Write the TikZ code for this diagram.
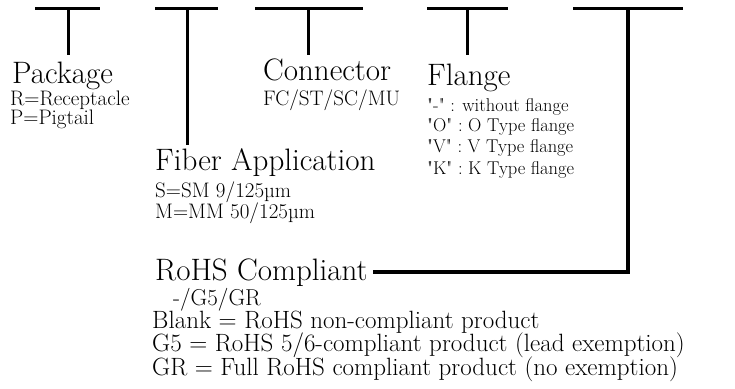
\documentclass[tikz,border=0pt]{standalone}
\usepackage{xcolor}
\usepackage{tikz}
\usetikzlibrary{positioning, calc}
\definecolor{mydark}{RGB}{0,0,0}
\tikzset{
  bigtxt/.style={anchor=base west, inner sep=0pt, color=mydark,
    font=\fontsize{31}{33}\selectfont},
  smalltxt/.style={anchor=base west, inner sep=0pt, color=mydark,
    font=\fontsize{21}{23}\selectfont},
  flangetxt/.style={anchor=base west, inner sep=0pt, color=mydark,
    font=\fontsize{18.5}{20}\selectfont},
  rohstxt/.style={anchor=base west, inner sep=0pt, color=mydark,
    font=\fontsize{25}{27}\selectfont},
  bar/.style={line width=3pt, color=mydark},
  stem/.style={line width=3pt, color=mydark},
  boldstem/.style={line width=4pt, color=mydark}
}
\newcommand{\qt}[1]{\textquotedbl#1\textquotedbl}

\begin{document}
\begin{tikzpicture}[x=1pt, y=-1pt]
  \useasboundingbox (0,0) rectangle (735,388);

  % Package
  \coordinate (p1) at (35, 8);
  \coordinate (p2) at (100, 8);
  \coordinate (ptop) at (68, 8);
  \coordinate (pend) at (68, 55);
  \draw[bar] (p1) -- (p2);
  \draw[stem] (ptop) -- (pend);
  \node[bigtxt] (pkg) at (12, 83) {Package};
  \node[smalltxt] (pkgR) at (10, 105) {R=Receptacle};
  \node[smalltxt] (pkgP) at (10, 124) {P=Pigtail};

  % Fiber application
  \coordinate (f1) at (155, 8);
  \coordinate (f2) at (218, 8);
  \coordinate (ftop) at (187, 8);
  \coordinate (fend) at (187, 145);
  \draw[bar] (f1) -- (f2);
  \draw[stem] (ftop) -- (fend);
  \node[bigtxt] (fib) at (155, 170) {Fiber Application};
  \node[smalltxt] (fibS) at (155, 197) {S=SM 9/125\textmu m};
  \node[smalltxt] (fibM) at (155, 218) {M=MM 50/125\textmu m};

  % Connector
  \coordinate (c1) at (255, 8);
  \coordinate (c2) at (363, 8);
  \coordinate (ctop) at (308, 8);
  \coordinate (cend) at (308, 55);
  \draw[bar] (c1) -- (c2);
  \draw[stem] (ctop) -- (cend);
  \node[bigtxt] (con) at (263, 80) {Connector};
  \node[smalltxt] (conT) at (263, 105) {FC/ST/SC/MU};

  % Flange
  \coordinate (g1) at (427, 8);
  \coordinate (g2) at (508, 8);
  \coordinate (gtop) at (467, 8);
  \coordinate (gend) at (467, 55);
  \draw[bar] (g1) -- (g2);
  \draw[stem] (gtop) -- (gend);
  \node[bigtxt] (fla) at (427, 85) {Flange};
  \node[flangetxt] (flaA) at (427, 111) {\qt{-} : without flange};
  \node[flangetxt] (flaO) at (427, 131) {\qt{O} : O Type flange};
  \node[flangetxt] (flaV) at (427, 152) {\qt{V} : V Type flange};
  \node[flangetxt] (flaK) at (427, 174) {\qt{K} : K Type flange};

  % RoHS
  \coordinate (r1) at (573, 8);
  \coordinate (r2) at (683, 8);
  \coordinate (rtop) at (628, 8);
  \coordinate (rend) at (628, 272);
  \draw[bar] (r1) -- (r2);
  \node[bigtxt] (rohs) at (155, 280) {RoHS Compliant};
  \draw[boldstem] (rtop) -- (rend) -- ($(rohs.east |- rend) + (5,0)$);
  \node[rohstxt, font=\fontsize{23}{25}\selectfont] (rohsC) at (173, 305) {-/G5/GR};
  \node[rohstxt] (rohsB) at (152, 328) {Blank = RoHS non-compliant product};
  \node[rohstxt] (rohsG) at (152, 351) {G5 = RoHS 5/6-compliant product (lead exemption)};
  \node[rohstxt] (rohsR) at (152, 375) {GR = Full RoHS compliant product (no exemption)};

\end{tikzpicture}
\end{document}
